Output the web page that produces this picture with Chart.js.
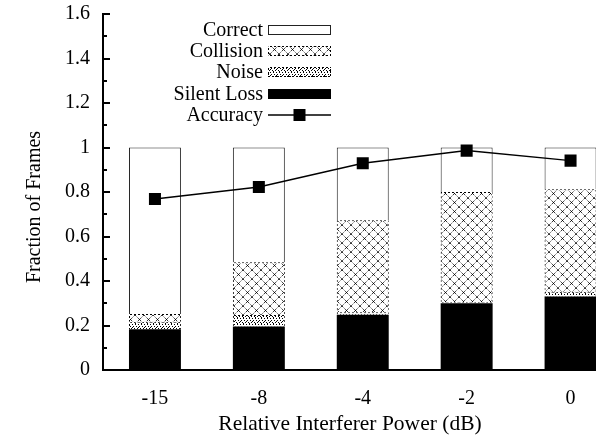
<!DOCTYPE html>
<html>
<head>
<meta charset="utf-8">
<script src="https://cdn.jsdelivr.net/npm/chart.js@4.4.1/dist/chart.umd.min.js"></script>
<style>
  html, body { margin: 0; padding: 0; background: #fff; overflow: hidden; }
  #wrap { width: 631px; height: 437px; position: relative; }
</style>
</head>
<body>
<div id="wrap"><canvas id="grafico"></canvas></div>
<script>
const categorias = ['-15', '-8', '-4', '-2', '0'];
const silentLoss = [0.183, 0.195, 0.248, 0.30, 0.33];
const noise = [0.034, 0.052, 0.012, 0.005, 0.022];
const collision = [0.035, 0.237, 0.413, 0.495, 0.46];
const correct = [0.748, 0.516, 0.327, 0.20, 0.188];
const accuracy = [0.769, 0.822, 0.929, 0.986, 0.941];
const yTicks = [0, 0.2, 0.4, 0.6, 0.8, 1, 1.2, 1.4, 1.6];

const FUENTE = "'Liberation Serif', serif";

function patronCruz() {
    const c = document.createElement('canvas');
    c.width = 9; c.height = 9;
    const g = c.getContext('2d');
    g.fillStyle = '#fff';
    g.fillRect(0, 0, 9, 9);
    g.strokeStyle = '#000';
    g.lineWidth = 0.8;
    g.setLineDash([2, 1.5]);
    g.beginPath();
    g.moveTo(0, 0); g.lineTo(9, 9);
    g.moveTo(9, 0); g.lineTo(0, 9);
    g.stroke();
    g.fillStyle = '#000';
    g.fillRect(4, 4, 1, 1);
    return g.createPattern(c, 'repeat');
}

function patronPuntos() {
    const c = document.createElement('canvas');
    c.width = 6; c.height = 6;
    const g = c.getContext('2d');
    g.fillStyle = '#fff';
    g.fillRect(0, 0, 6, 6);
    g.fillStyle = '#000';
    [[0, 0], [3, 0], [1, 2], [4, 2], [2, 4], [5, 4], [0, 3], [3, 5]].forEach(p => g.fillRect(p[0], p[1], 1, 1));
    return g.createPattern(c, 'repeat');
}

function patronGuiones() {
    const c = document.createElement('canvas');
    c.width = 4; c.height = 4;
    const g = c.getContext('2d');
    g.fillStyle = '#000';
    g.fillRect(0, 0, 2, 2);
    g.fillRect(2, 2, 2, 2);
    return g.createPattern(c, 'repeat');
}

const pCruz = patronCruz();
const pPuntos = patronPuntos();
const pGuiones = patronGuiones();

// marcas del eje y hacia adentro, titulos de ejes y leyenda
const extras = {
    id: 'extras',
    afterDraw(chart) {
        const ctx = chart.ctx;
        const y = chart.scales.y;
        const area = chart.chartArea;
        ctx.save();
        ctx.strokeStyle = '#000';
        ctx.lineWidth = 2;
        for (let i = 0; i <= 16; i++) {
            const py = Math.round(y.getPixelForValue(i / 10));
            const len = i % 2 === 0 ? 7 : 4;
            ctx.beginPath();
            ctx.moveTo(area.left, py);
            ctx.lineTo(area.left + len, py);
            ctx.stroke();
        }

        ctx.fillStyle = '#000';
        ctx.textAlign = 'center';
        ctx.textBaseline = 'middle';
        ctx.font = '21.5px ' + FUENTE;
        ctx.fillText('Relative Interferer Power (dB)', 350, 424);
        ctx.font = '20px ' + FUENTE;
        ctx.translate(35, 207);
        ctx.rotate(-Math.PI / 2);
        ctx.fillText('Fraction of Frames', 0, 0);
        ctx.restore();

        // leyenda
        const filas = [
            { ds: 3, cy: 30 },
            { ds: 2, cy: 51 },
            { ds: 1, cy: 72 },
            { ds: 0, cy: 94 },
            { ds: 4, cy: 115 }
        ];
        const x0 = 268, x1 = 331;
        ctx.save();
        ctx.font = '20px ' + FUENTE;
        ctx.textAlign = 'right';
        ctx.textBaseline = 'middle';
        filas.forEach(f => {
            const ds = chart.data.datasets[f.ds];
            ctx.fillStyle = '#000';
            ctx.fillText(ds.label, 263, f.cy + 1);
            if (ds.type === 'line') {
                ctx.strokeStyle = '#000';
                ctx.lineWidth = 1.5;
                ctx.beginPath();
                ctx.moveTo(x0, f.cy);
                ctx.lineTo(x1, f.cy);
                ctx.stroke();
                ctx.fillRect((x0 + x1) / 2 - 6, f.cy - 6, 12, 12);
            } else {
                ctx.fillStyle = ds.backgroundColor;
                ctx.fillRect(x0, f.cy - 5, x1 - x0, 10);
                if (ds.borderWidth) {
                    ctx.strokeStyle = ds.borderColor;
                    ctx.lineWidth = 1;
                    ctx.strokeRect(x0 + 0.5, f.cy - 4.5, x1 - x0 - 1, 9);
                }
            }
        });
        ctx.restore();
    }
};

new Chart(document.getElementById('grafico'), {
    type: 'bar',
    data: {
        labels: categorias,
        datasets: [
            { label: 'Silent Loss', data: silentLoss, backgroundColor: '#000', borderWidth: 0, stack: 'frames', order: 1 },
            { label: 'Noise', data: noise, backgroundColor: pPuntos, borderColor: pGuiones, borderWidth: 1, stack: 'frames', order: 1 },
            { label: 'Collision', data: collision, backgroundColor: pCruz, borderColor: pGuiones, borderWidth: 1, stack: 'frames', order: 1 },
            { label: 'Correct', data: correct, backgroundColor: '#fff', borderColor: '#222', borderWidth: 1, stack: 'frames', order: 1 },
            {
                label: 'Accuracy', data: accuracy, type: 'line', stack: 'acc', order: 0,
                borderColor: '#000', borderWidth: 1.5, tension: 0,
                pointStyle: 'rect', pointRadius: 8.5, pointBackgroundColor: '#000', pointBorderWidth: 0
            }
        ]
    },
    options: {
        responsive: true,
        maintainAspectRatio: false,
        animation: false,
        layout: { padding: { top: 14, right: 2, left: 0, bottom: 0 } },
        datasets: { bar: { barPercentage: 0.5, categoryPercentage: 1 } },
        plugins: { legend: { display: false }, tooltip: { enabled: false } },
        scales: {
            x: {
                stacked: true,
                grid: { drawOnChartArea: false, drawTicks: false },
                border: { display: true, color: '#000', width: 2 },
                ticks: { color: '#000', padding: 17, font: { family: FUENTE, size: 20 } },
                afterFit: s => { s.height = 67; s.paddingLeft = 0; s.paddingRight = 0; }
            },
            y: {
                stacked: true,
                min: 0,
                max: 1.6,
                grid: { drawOnChartArea: false, drawTicks: false },
                border: { display: true, color: '#000', width: 2 },
                afterBuildTicks: s => { s.ticks = yTicks.map(v => ({ value: v })); },
                ticks: { color: '#000', padding: 13, font: { family: FUENTE, size: 20 }, callback: v => String(Math.round(v * 10) / 10) },
                afterFit: s => { s.width = 103; s.paddingTop = 0; s.paddingBottom = 0; }
            }
        }
    },
    plugins: [extras]
});
</script>
</body>
</html>
